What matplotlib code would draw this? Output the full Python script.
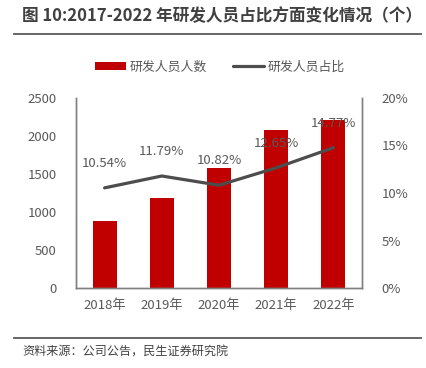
import matplotlib.pyplot as plt
from matplotlib.ticker import FuncFormatter
import numpy as np

plt.rcParams['font.family'] = ['Noto Sans CJK SC', 'DejaVu Sans']

# Data
years = ["2018年", "2019年", "2020年", "2021年", "2022年"]
staff_count = [886, 1190, 1574, 2075, 2210]
staff_ratio = [10.54, 11.79, 10.82, 12.65, 14.77]

BAR_COLOR = "#C00000"
LINE_COLOR = "#4D4D4D"
TEXT_COLOR = "#595959"
AXIS_COLOR = "#7F7F7F"

fig = plt.figure(figsize=(4.26, 3.68), dpi=100)
ax = fig.add_axes([76 / 426, 1 - 288 / 368, 286 / 426, 190 / 368])
ax2 = ax.twinx()

x = np.arange(len(years))
bars = ax.bar(x, staff_count, width=0.42, color=BAR_COLOR, label="研发人员人数", zorder=2)
line, = ax2.plot(x, staff_ratio, color=LINE_COLOR, linewidth=2.3, label="研发人员占比",
                 solid_capstyle="round", zorder=3)

for xi, v in zip(x, staff_ratio):
    ax2.annotate(f"{v:.2f}%", (xi, v), xytext=(0, 13), textcoords="offset points",
                 ha="center", va="bottom", fontsize=9.5, color=TEXT_COLOR)

ax.set_xlim(-0.5, len(years) - 0.5)
ax.set_ylim(0, 2500)
ax.set_yticks(range(0, 2501, 500))
ax2.set_ylim(0, 20)
ax2.set_yticks(range(0, 21, 5))
ax2.yaxis.set_major_formatter(FuncFormatter(lambda v, p: f"{v:.0f}%"))
ax.set_xticks(x)
ax.set_xticklabels(years)

for a in (ax, ax2):
    a.spines["top"].set_visible(False)
    for s in ("left", "right", "bottom"):
        a.spines[s].set_color(AXIS_COLOR)
        a.spines[s].set_linewidth(1.0)
    a.tick_params(length=0, labelsize=9.5, colors=TEXT_COLOR)
ax.tick_params(axis="y", pad=14)
ax.tick_params(axis="x", pad=8)
ax2.tick_params(axis="y", pad=14)

# Legend
fig.legend([bars, line], ["研发人员人数", "研发人员占比"], loc="center",
           bbox_to_anchor=(220 / 426, 1 - 67 / 368), ncol=2, frameon=False,
           fontsize=9.3, labelcolor=TEXT_COLOR, handlelength=2.4, handleheight=0.5,
           columnspacing=2.0, handletextpad=0.3)

# Title and source
fig.text(22 / 426, 1 - 16 / 368, "图 10:2017-2022 年研发人员占比方面变化情况（个）",
         fontsize=12, fontweight="bold", color="#404040", va="center", ha="left")
fig.add_artist(plt.Line2D([14 / 426, 421 / 426], [1 - 34 / 368, 1 - 34 / 368],
                          color="#595959", linewidth=1.3))
fig.add_artist(plt.Line2D([14 / 426, 421 / 426], [1 - 338 / 368, 1 - 338 / 368],
                          color="#595959", linewidth=1.3))
fig.text(22 / 426, 1 - 352 / 368, "资料来源：公司公告，民生证券研究院",
         fontsize=8.7, color="#404040", va="center", ha="left")

plt.savefig("out.png", dpi=100)
